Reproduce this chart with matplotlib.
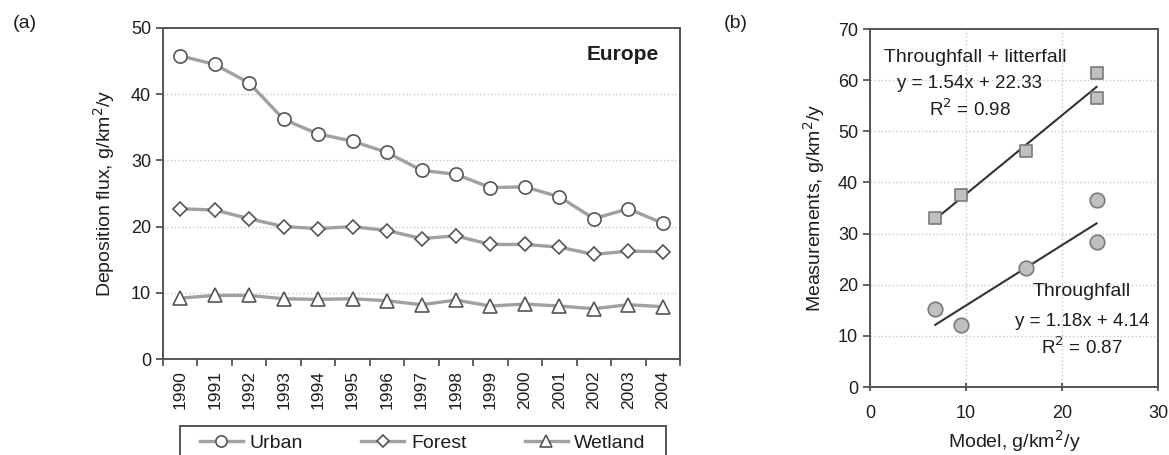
import numpy as np
import matplotlib
matplotlib.use("Agg")
import matplotlib.pyplot as plt
from matplotlib.patches import Rectangle

plt.rcParams['font.family'] = ['Liberation Sans', 'DejaVu Sans']

# (a) deposition flux, Europe
years = [str(y) for y in range(1990, 2005)]
urban = [45.8, 44.5, 41.7, 36.2, 34.0, 32.9, 31.2, 28.5, 27.9, 25.9, 26.0, 24.5, 21.2, 22.7, 20.5]
forest = [22.7, 22.5, 21.2, 20.0, 19.7, 20.0, 19.4, 18.2, 18.6, 17.3, 17.3, 16.9, 15.8, 16.3, 16.2]
wetland = [9.2, 9.6, 9.6, 9.1, 9.0, 9.1, 8.8, 8.2, 8.9, 8.0, 8.3, 8.0, 7.6, 8.2, 7.9]

# (b) model vs measurements
model_x = [6.8, 9.5, 16.2, 23.6, 23.6]
thr_litter = [33.1, 37.5, 46.1, 61.3, 56.6]
thr = [15.2, 12.2, 23.2, 36.5, 28.4]
fit_litter = (1.54, 22.33)
fit_thr = (1.18, 4.14)

W, H = 1169, 455
fig = plt.figure(figsize=(W / 100, H / 100), dpi=100)

spine_c = '#555555'
line_c = '#a0a0a0'
edge_c = '#555555'
grid_c = '#c8c8c8'
txt_c = '#1e1e1e'

#---- panel (a)
ax = fig.add_axes([163 / W, 1 - 359 / H, 517 / W, 331 / H])
x = np.arange(len(years))
series = [(urban, 'o', 'Urban', 9.5), (forest, 'D', 'Forest', 7.0), (wetland, '^', 'Wetland', 9.5)]
handles = []
for vals, m, lab, ms in series:
    h, = ax.plot(x, vals, color=line_c, lw=2.4, marker=m, ms=ms, mfc='white',
                 mec=edge_c, mew=1.2, label=lab, zorder=3)
    handles.append(h)

ax.set_xlim(-0.5, len(years) - 0.5)
ax.set_ylim(0, 50)
ax.set_yticks([0, 10, 20, 30, 40, 50])
ax.set_xticks(x)
ax.set_xticklabels(years, rotation=90)
ax.set_xticks(np.arange(-0.5, len(years)), minor=True)
ax.tick_params(axis='x', which='major', length=0, pad=8, labelsize=12.5, colors=txt_c)
ax.tick_params(axis='x', which='minor', length=5, width=1.3, color=spine_c, direction='out')
ax.tick_params(axis='y', length=5, width=1.3, color=spine_c, labelsize=13, labelcolor=txt_c)
ax.yaxis.grid(True, linestyle=':', color=grid_c, lw=1)
ax.set_axisbelow(True)
for s in ax.spines.values():
    s.set_color(spine_c)
    s.set_linewidth(1.4)
ax.set_ylabel('Deposition flux, g/km$^2$/y', fontsize=14, labelpad=10, color=txt_c)
ax.text(0.96, 0.92, 'Europe', transform=ax.transAxes, ha='right', va='center',
        fontsize=15, fontweight='bold', color=txt_c)

# legend box runs off the bottom edge, as in the original
fig.patches.append(Rectangle((180 / W, -0.05), 486 / W, 1 - 426 / H + 0.05,
                             transform=fig.transFigure, fill=False, ec=spine_c, lw=1.4))
leg = fig.legend(handles, ['Urban', 'Forest', 'Wetland'], loc='center',
                 bbox_to_anchor=(423 / W, 1 - 443 / H), ncol=3, frameon=False,
                 fontsize=14, handlelength=2.2, handletextpad=0.35, columnspacing=3.0,
                 markerscale=0.85)
for t in leg.get_texts():
    t.set_color(txt_c)

#---- panel (b)
bx = fig.add_axes([870 / W, 1 - 387 / H, 288 / W, 358 / H])
for (k, b), xs in [(fit_litter, model_x), (fit_thr, model_x)]:
    xx = np.array([min(xs), max(xs)])
    bx.plot(xx, k * xx + b, color='#333333', lw=1.5, zorder=2)
bx.scatter(model_x, thr_litter, marker='s', s=75, c='#c0c0c0', edgecolors='#7a7a7a',
           linewidths=1.2, zorder=3)
bx.scatter(model_x, thr, marker='o', s=110, c='#c0c0c0', edgecolors='#7a7a7a',
           linewidths=1.2, zorder=3)
bx.set_xlim(0, 30)
bx.set_ylim(0, 70)
bx.set_xticks([0, 10, 20, 30])
bx.set_yticks(range(0, 71, 10))
bx.grid(True, linestyle=':', color=grid_c, lw=1)
bx.set_axisbelow(True)
bx.tick_params(axis='x', length=6, width=1.3, color=spine_c, direction='inout', pad=10,
               labelsize=13, labelcolor=txt_c)
bx.tick_params(axis='y', length=5, width=1.3, color=spine_c, labelsize=13, labelcolor=txt_c)
for s in bx.spines.values():
    s.set_color(spine_c)
    s.set_linewidth(1.4)
bx.set_xlabel('Model, g/km$^2$/y', fontsize=14, labelpad=4, color=txt_c)
bx.set_ylabel('Measurements, g/km$^2$/y', fontsize=14, labelpad=8, color=txt_c)

tkw = dict(fontsize=13.5, color=txt_c, ha='center', va='center')
bx.text(11.0, 64.5, 'Throughfall + litterfall', fontsize=14, color=txt_c, ha='center', va='center')
bx.text(10.4, 59.4, 'y = %.2fx + %.2f' % fit_litter, **tkw)
bx.text(10.4, 54.4, 'R$^2$ = 0.98', **tkw)
bx.text(22.1, 18.6, 'Throughfall', fontsize=14, color=txt_c, ha='center', va='center')
bx.text(22.1, 12.9, 'y = %.2fx + %.2f' % fit_thr, **tkw)
bx.text(22.1, 7.8, 'R$^2$ = 0.87', **tkw)

fig.text(25 / W, 1 - 23 / H, '(a)', fontsize=14, ha='center', va='center', color=txt_c)
fig.text(736 / W, 1 - 23 / H, '(b)', fontsize=14, ha='center', va='center', color=txt_c)

fig.savefig('out.png', dpi=100)
